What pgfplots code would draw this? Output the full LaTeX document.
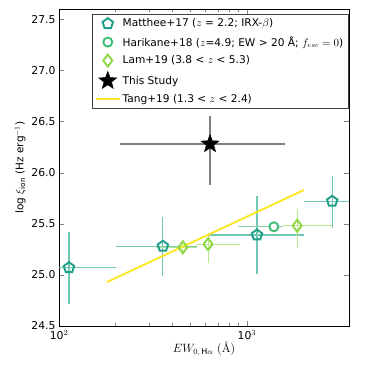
\documentclass[border=0pt]{standalone}
\usepackage{fontspec}
\setmainfont{DejaVu Sans}
\newfontfamily\lmr{Latin Modern Roman}
\usepackage{pgfplots}
\pgfplotsset{compat=1.18}

\definecolor{matt}{HTML}{1F9E89}
\definecolor{mattE}{HTML}{70C8B4}
\definecolor{hari}{HTML}{3DBC74}
\definecolor{hariE}{HTML}{8AD8A8}
\definecolor{lam}{HTML}{8FD744}
\definecolor{lamE}{HTML}{BCE68A}
\definecolor{tang}{HTML}{FDE725}

% filled five-pointed star
\pgfdeclareplotmark{fstar}{%
  \pgfpathmoveto{\pgfpointpolar{90}{\pgfplotmarksize}}%
  \pgfpathlineto{\pgfpointpolar{126}{0.42\pgfplotmarksize}}%
  \pgfpathlineto{\pgfpointpolar{162}{\pgfplotmarksize}}%
  \pgfpathlineto{\pgfpointpolar{198}{0.42\pgfplotmarksize}}%
  \pgfpathlineto{\pgfpointpolar{234}{\pgfplotmarksize}}%
  \pgfpathlineto{\pgfpointpolar{270}{0.42\pgfplotmarksize}}%
  \pgfpathlineto{\pgfpointpolar{306}{\pgfplotmarksize}}%
  \pgfpathlineto{\pgfpointpolar{342}{0.42\pgfplotmarksize}}%
  \pgfpathlineto{\pgfpointpolar{18}{\pgfplotmarksize}}%
  \pgfpathlineto{\pgfpointpolar{54}{0.42\pgfplotmarksize}}%
  \pgfpathclose
  \pgfusepathqfillstroke
}

\begin{document}
\begin{tikzpicture}
\begin{axis}[
  scale only axis,
  width=290pt, height=317pt,
  xmode=log,
  xmin=100, xmax=3490,
  ymin=24.5, ymax=27.6,
  xtick={100,1000},
  xticklabels={10$^2$,10$^3$},
  ytick={24.5,25,25.5,26,26.5,27,27.5},
  yticklabel style={/pgf/number format/fixed, /pgf/number format/fixed zerofill, /pgf/number format/precision=1},
  /pgf/number format/assume math mode=true,
  ticklabel style={font=\fontsize{10.8}{12}\selectfont},
  xticklabel style={yshift=-0.5pt},
  major tick length=5pt, minor tick length=3pt,
  axis line style={line width=0.9pt},
  xlabel={$EW_{0,\,\mathrm{H\alpha}}$ {\lmr(\r{A})}},
  ylabel={log $\xi_{\rm ion}$ (Hz erg$^{-1}$)},
  xlabel style={font=\fontsize{12}{14}\selectfont, yshift=4pt},
  ylabel style={font=\fontsize{10.5}{12}\selectfont, yshift=-1pt},
  unbounded coords=jump,
  clip=true,
  legend cell align=left,
  legend image code/.code={\draw[mark repeat=2,mark phase=2] plot coordinates {(0cm,0cm) (0.42cm,0cm) (0.84cm,0cm)};},
  legend style={at={(rel axis cs:0.997,0.984)}, anchor=north east,
    font=\fontsize{10.6}{12}\selectfont, draw=black!75, line width=0.6pt,
    row sep=4pt, inner sep=2.5pt},
]
% error bars
\addplot[mattE, line width=1.1pt, forget plot] coordinates {
  (90,25.07) (201,25.07) (1,nan) (113,24.72) (113,25.42) (1,nan)
  (201,25.28) (540,25.28) (1,nan) (357,24.99) (357,25.57) (1,nan)
  (628,25.39) (2010,25.39) (1,nan) (1130,25.01) (1130,25.77) (1,nan)
  (2010,25.72) (4000,25.72) (1,nan) (2840,25.46) (2840,25.97)
};
\addplot[hariE, line width=1.1pt, forget plot] coordinates {
  (895,25.47) (1550,25.47) (1,nan) (1390,25.43) (1390,25.52)
};
\addplot[lamE, line width=1.1pt, forget plot] coordinates {
  (328,25.27) (540,25.27) (1,nan) (456,25.19) (456,25.34) (1,nan)
  (540,25.30) (920,25.30) (1,nan) (621,25.12) (621,25.41) (1,nan)
  (1550,25.48) (2840,25.48) (1,nan) (1850,25.26) (1850,25.64)
};
\addplot[gray, line width=1.1pt, forget plot] coordinates {
  (211,26.28) (1590,26.28) (1,nan) (636,25.88) (636,26.55)
};
% markers
\addplot[only marks, mark=pentagon, mark size=5.5pt, matt, line width=1.9pt, mark options={fill=white}] coordinates {
  (113,25.07) (357,25.28) (1130,25.39) (2840,25.72)
};
\addlegendentry{Matthee+17 ($z$ = 2.2; IRX-$\beta$)}
\addplot[only marks, mark=*, mark size=4.5pt, hari, line width=1.9pt, mark options={fill=white}] coordinates {
  (1390,25.47)
};
\addlegendentry{Harikane+18 ($z$=4.9; EW > 20 \r{A}; $f_{esc}=0$)}
\addplot[only marks, mark=diamond, mark size=6pt, lam, line width=1.9pt, mark options={fill=white}] coordinates {
  (456,25.27) (621,25.30) (1850,25.48)
};
\addlegendentry{Lam+19 (3.8 < $z$ < 5.3)}
\addplot[only marks, mark=fstar, mark size=9.5pt, black, line width=0.4pt] coordinates {
  (636,26.28)
};
\addlegendentry{This Study}
\addplot[tang, line width=1.9pt] coordinates {
  (180,24.93) (2010,25.83)
};
\addlegendentry{Tang+19 (1.3 < $z$ < 2.4)}
\end{axis}
\pgfresetboundingbox
\path (current axis.south west) ++(-59pt,-48pt) rectangle ++(374pt,374pt);
\end{tikzpicture}
\end{document}
